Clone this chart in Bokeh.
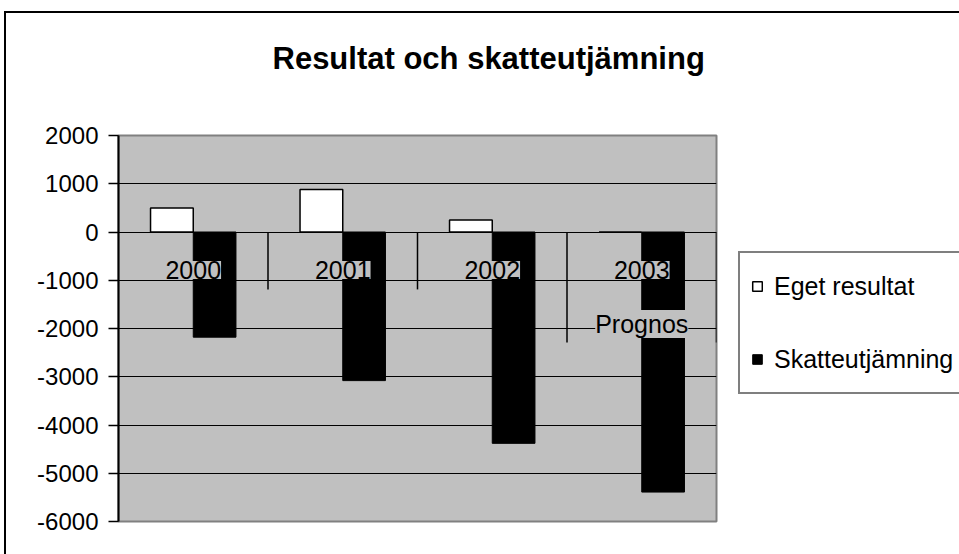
from bokeh.plotting import figure
from bokeh.models import (ColumnDataSource, FactorRange, Range1d, LabelSet,
                          Legend, LegendItem, SingleIntervalTicker, PrintfTickFormatter)
from bokeh.core.properties import value
from bokeh.transform import dodge
from bokeh.embed import file_html
from bokeh.resources import INLINE

# ---- data ----
title_text = "Resultat och skatteutjämning"
categories = ["2000", "2001", "2002", "2003"]
second_line = ["", "", "", "Prognos"]
eget_resultat = [500, 880, 250, 0]
skatteutjamning = [-2180, -3080, -4380, -5390]
y_ticks_start, y_ticks_end, y_tick_step = -6000, 2000, 1000

FONT = "Liberation Sans"
PLOT_BG = "#C0C0C0"

p = figure(frame_width=598, frame_height=386, output_backend="svg", toolbar_location=None,
           x_range=FactorRange(factors=categories, range_padding=0),
           y_range=Range1d(y_ticks_start, y_ticks_end),
           min_border_left=112, min_border_right=0,
           min_border_top=121, min_border_bottom=34,
           background_fill_color=PLOT_BG, border_fill_color="white",
           title=title_text + "\n")
p.styles = {"margin-left": "4px", "margin-top": "11px",
            "border-left": "2px solid black", "border-top": "2px solid black"}

p.title.align = "left"
p.title.offset = 154
p.title.vertical_align = "bottom"
p.title.standoff = 50
p.title.text_font = FONT
p.title.text_font_size = "31px"
p.title.text_font_style = "bold"
p.title.text_color = "black"

src = ColumnDataSource(dict(cat=categories, eget=eget_resultat, skatt=skatteutjamning))

bar_w = 1 / 3.5
r1 = p.vbar(x=dodge("cat", -bar_w / 2, range=p.x_range), top="eget", bottom=0, width=bar_w,
            source=src, fill_color="white", line_color="black", line_width=1.5)
r2 = p.vbar(x=dodge("cat", bar_w / 2, range=p.x_range), top="skatt", bottom=0, width=bar_w,
            source=src, fill_color="black", line_color="black", line_width=1)

# category-boundary tick marks hanging from the zero line (Excel style)
lines = [2 if s else 1 for s in second_line]
bx, by1 = [], []
for i, c in enumerate(categories):
    n = max(lines[i], lines[i + 1]) if i + 1 < len(categories) else lines[i]
    bx.append((c, 0.5))
    by1.append(-1190 - (n - 1) * 1100)
tick_src = ColumnDataSource(dict(x=bx, y0=[0] * len(bx), y1=by1))
p.segment(x0="x", y0="y0", x1="x", y1="y1", source=tick_src, line_color="black", line_width=1.5)

# category labels at the zero line with plot-colored background
lab_src = ColumnDataSource(dict(x=categories, y=[0] * len(categories), t=categories))
p.add_layout(LabelSet(x="x", y="y", text="t", source=lab_src, y_offset=-38,
                      text_align="center", text_baseline="middle",
                      text_font=value(FONT), text_font_size=value("25px"), text_color="black",
                      background_fill_color=PLOT_BG))
sl_x = [c for c, s in zip(categories, second_line) if s]
sl_t = [s for s in second_line if s]
sl_src = ColumnDataSource(dict(x=sl_x, y=[0] * len(sl_x), t=sl_t))
p.add_layout(LabelSet(x="x", y="y", text="t", source=sl_src, y_offset=-92,
                      text_align="center", text_baseline="middle",
                      text_font=value(FONT), text_font_size=value("25px"), text_color="black",
                      background_fill_color=PLOT_BG))

# axes
p.xaxis.visible = False
p.xgrid.visible = False
p.ygrid.grid_line_color = "black"
p.ygrid.grid_line_width = 1
p.yaxis.ticker = SingleIntervalTicker(interval=y_tick_step)
p.yaxis.formatter = PrintfTickFormatter(format="%d")
p.yaxis.axis_line_color = "black"
p.yaxis.axis_line_width = 2
p.yaxis.major_tick_line_color = "black"
p.yaxis.major_tick_line_width = 1.5
p.yaxis.major_tick_out = 10
p.yaxis.major_tick_in = 0
p.yaxis.minor_tick_line_color = None
p.yaxis.major_label_standoff = 10
p.yaxis.major_label_text_font = FONT
p.yaxis.major_label_text_font_size = "24px"
p.yaxis.major_label_text_color = "black"
p.outline_line_color = "#808080"
p.outline_line_width = 2

# legend in the right panel
legend = Legend(items=[LegendItem(label="Eget resultat", renderers=[r1]),
                       LegendItem(label="Skatteutjämning", renderers=[r2])],
                location=(22, 127), padding=11, margin=0, spacing=29,
                glyph_width=12, glyph_height=12, label_height=44, label_width=198,
                label_standoff=11,
                label_text_font=FONT, label_text_font_size="25px", label_text_color="black",
                border_line_color="black", border_line_width=2,
                background_fill_color="white")
p.add_layout(legend, "right")

open("out.html", "w").write(file_html(p, INLINE))
